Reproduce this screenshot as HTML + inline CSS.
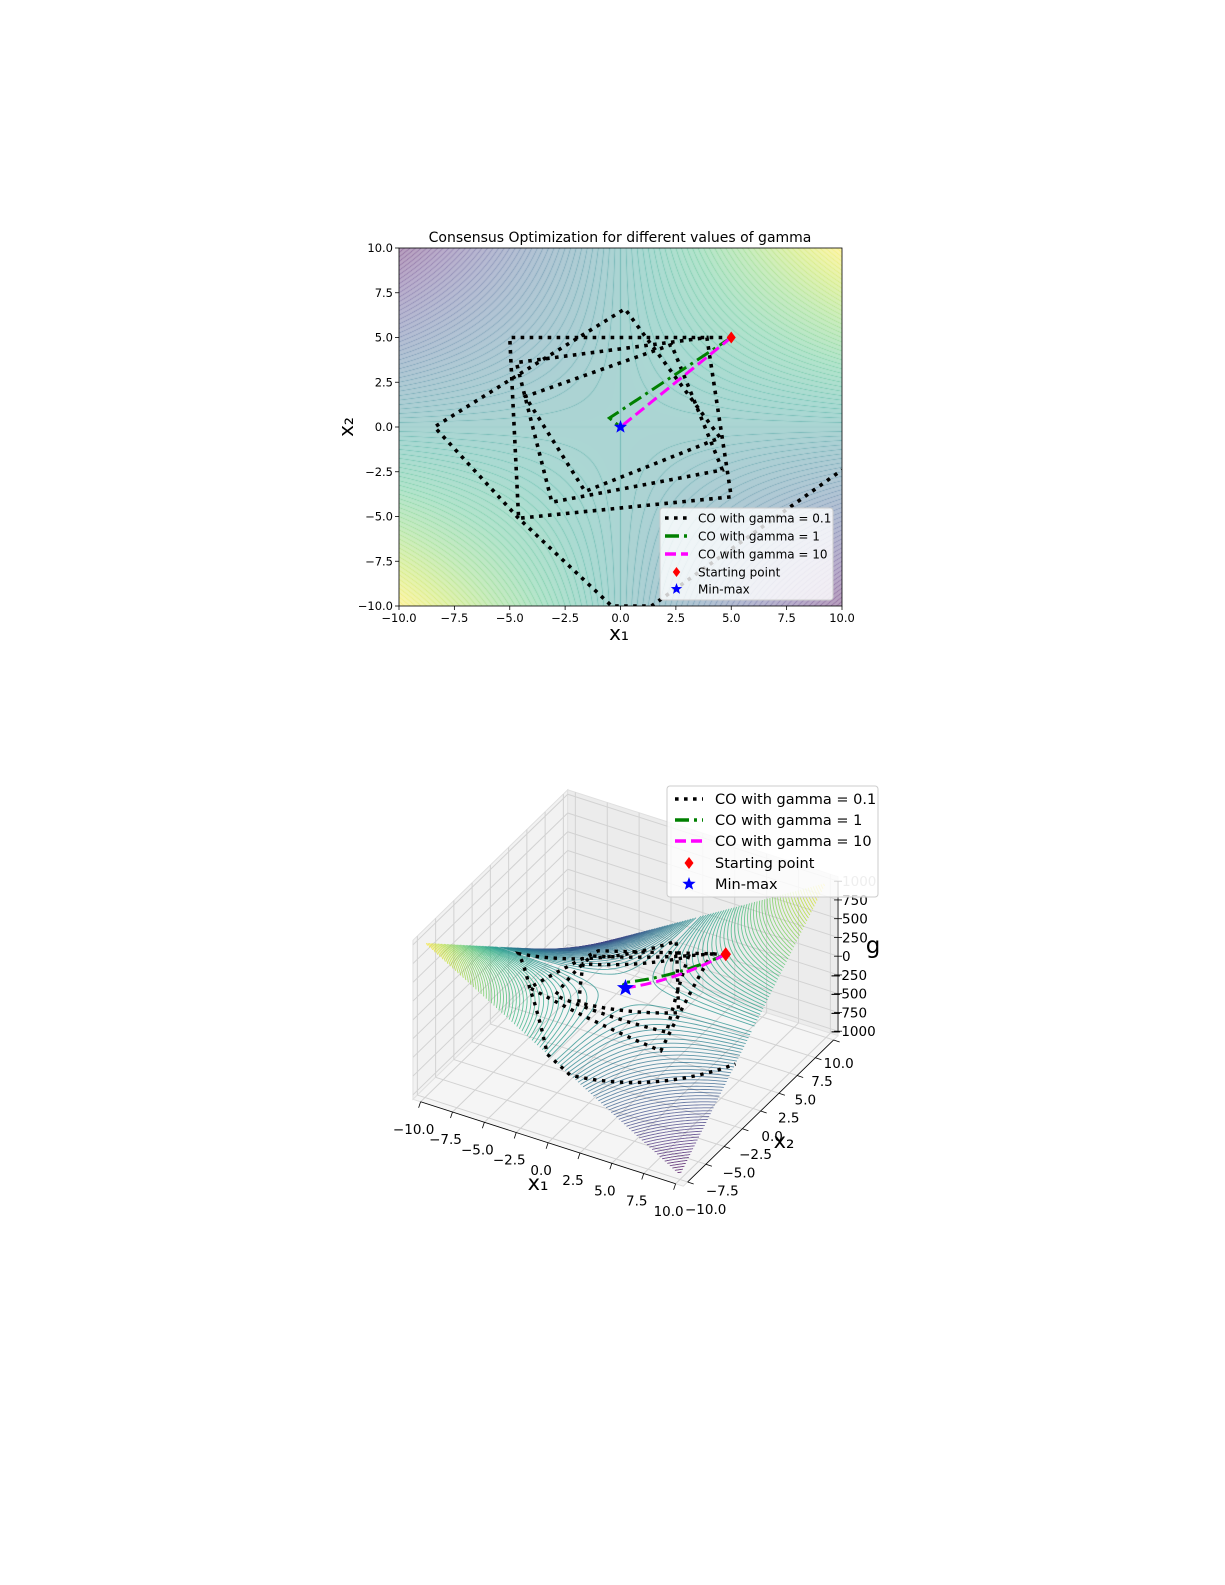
<!DOCTYPE html>
<html><head><meta charset="utf-8">
<style>
html,body{margin:0;padding:0;background:#fff;}
#wrap{position:relative;width:1225px;height:1585px;overflow:hidden;font-family:"DejaVu Sans","Liberation Sans",sans-serif;}
#heat{position:absolute;left:399px;top:248px;}
#svg{position:absolute;left:0;top:0;}
</style></head>
<body>
<div id="wrap">
<canvas id="heat" width="443" height="358"></canvas>
<svg id="svg" width="1225" height="1585" xmlns="http://www.w3.org/2000/svg" font-family="DejaVu Sans, Liberation Sans, sans-serif">
<defs><clipPath id="clip2d"><rect x="399" y="248" width="443" height="358"/></clipPath></defs>
<g id="g2d"></g>
<g id="g3d"></g>
</svg>
</div>
<script>
// ---- data ----
const ticks2d = [-10.0,-7.5,-5.0,-2.5,0.0,2.5,5.0,7.5,10.0];
const tickLabels2d = ["\u221210.0","\u22127.5","\u22125.0","\u22122.5","0.0","2.5","5.0","7.5","10.0"];
const zTicks = [-1000,-750,-500,-250,0,250,500,750,1000];
const zTickLabels = ["\u22121000","\u2212750","\u2212500","\u2212250","0","250","500","750","1000"];
const co01x = [5,-5,-4.6,5,3.9,-4.7,-3.1,4.6,2.3,-4.3,-1.6,4.5,0.2,-4.9,-8.4,-4.6,-0.4,1.4,10];
const co01y = [5,5,-5.1,-3.9,5,3.6,-4.2,-2.4,4.6,1.7,-3.6,-0.6,6.6,2.7,0,-5.1,-10,-10,-2.4];
const co1x = [5,-0.5,0];
const co1y = [5,0.5,0];
const co10x = [5,0];
const co10y = [5,0];
const startPt = [5,5];
const minmaxPt = [0,0];
const legendLabels = ["CO with gamma = 0.1","CO with gamma = 1","CO with gamma = 10","Starting point","Min-max"];

const NS="http://www.w3.org/2000/svg";
function mk(tag,attrs,parent,text){const e=document.createElementNS(NS,tag);for(const k in attrs)e.setAttribute(k,attrs[k]);if(text!==undefined)e.textContent=text;parent.appendChild(e);return e;}
const VS=[[68,1,84],[72,40,120],[62,74,137],[49,104,142],[38,130,142],[31,158,137],[53,183,121],[109,205,89],[180,222,44],[253,231,37]];
function viridis(t){t=Math.max(0,Math.min(1,t))*9;const i=Math.min(8,Math.floor(t));const f=t-i;const a=VS[i],b=VS[i+1];return [a[0]+(b[0]-a[0])*f,a[1]+(b[1]-a[1])*f,a[2]+(b[2]-a[2])*f];}
function fval(x1,x2){return x1*x2;}

// ---- 2D heatmap ----
const L=399,T=248,W=443,H=358;
const sx=v=>L+(v+10)/20*W, sy=v=>T+H-(v+10)/20*H;
(function(){
 const cv=document.getElementById('heat');const ctx=cv.getContext('2d');
 const img=ctx.createImageData(W,H);const step=2.5;
 for(let j=0;j<H;j++)for(let i=0;i<W;i++){
  const x1=-10+(i+0.5)/W*20,x2=10-(j+0.5)/H*20;const f=fval(x1,x2);
  const c=viridis((f+100)/200);
  const g=Math.sqrt(x1*x1+x2*x2)*(20/W)+1e-6;
  const fr=Math.abs(f/step-Math.round(f/step))*step/g;
  let a=0.38;if(fr<0.7)a+=0.25*(1-fr/0.7);
  const k=(j*W+i)*4;
  img.data[k]=255*(1-a)+c[0]*a;img.data[k+1]=255*(1-a)+c[1]*a;img.data[k+2]=255*(1-a)+c[2]*a;img.data[k+3]=255;}
 ctx.putImageData(img,0,0);
})();

const g2=document.getElementById('g2d');
mk('rect',{x:L,y:T,width:W,height:H,fill:'none',stroke:'#000','stroke-width':0.8,},g2);
mk('text',{x:620,y:242,'text-anchor':'middle','font-size':14,},g2,'Consensus Optimization for different values of gamma');
ticks2d.forEach((v,i)=>{
 mk('line',{x1:sx(v),x2:sx(v),y1:T+H,y2:T+H+4,stroke:'#000','stroke-width':0.8},g2);
 mk('text',{x:sx(v),y:T+H+16,'text-anchor':'middle','font-size':11.5,},g2,tickLabels2d[i]);
 mk('line',{x1:L-4,x2:L,y1:sy(v),y2:sy(v),stroke:'#000','stroke-width':0.8},g2);
 mk('text',{x:L-6,y:sy(v)+4,'text-anchor':'end','font-size':11.5,},g2,tickLabels2d[i]);
});
mk('text',{x:619,y:640,'text-anchor':'middle','font-size':20,},g2,'x\u2081');
mk('text',{x:0,y:0,'text-anchor':'middle','font-size':20,transform:'translate(353,427) rotate(-90)',},g2,'x\u2082');
const cg=mk('g',{'clip-path':'url(#clip2d)'},g2);
function pts2(xs,ys){return xs.map((x,i)=>sx(x)+','+sy(ys[i])).join(' ');}
mk('polyline',{points:pts2(co01x,co01y),fill:'none',stroke:'#000','stroke-width':3.6,'stroke-dasharray':'3.6,5.4',},cg);
mk('polyline',{points:pts2(co1x,co1y),fill:'none',stroke:'#008000','stroke-width':3,'stroke-dasharray':'14,5,3,5',},cg);
mk('polyline',{points:pts2(co10x,co10y),fill:'none',stroke:'#ff00ff','stroke-width':3,'stroke-dasharray':'11,5',},cg);
function diamond(x,y,r,p,name){mk('polygon',{points:`${x},${y-r} ${x+r*0.75},${y} ${x},${y+r} ${x-r*0.75},${y}`,fill:'#ff0000',},p);}
function star(x,y,r,p,name){let s='';for(let k=0;k<10;k++){const rr=k%2?r*0.42:r;const a=-Math.PI/2+k*Math.PI/5;s+=(x+rr*Math.cos(a))+','+(y+rr*Math.sin(a))+' ';}mk('polygon',{points:s,fill:'#0000ff',},p);}
diamond(sx(startPt[0]),sy(startPt[1]),6,g2,'starting-point-marker');
star(sx(minmaxPt[0]),sy(minmaxPt[1]),7,g2,'min-max-marker');
function legend(p,x,y,w,h,rows,hx1,hx2,tx,fs,ms){
 const lg=mk('g',{},p);
 mk('rect',{x:x,y:y,width:w,height:h,rx:3,fill:'#fff','fill-opacity':0.8,stroke:'#ccc','stroke-width':1},lg);
 const st=[{s:'#000',d:'3.6,5.4'},{s:'#008000',d:'14,5,3,5'},{s:'#ff00ff',d:'11,5'}];
 legendLabels.forEach((lab,i)=>{
  const yy=rows[i];const e=mk('g',{},lg);
  if(i<3)mk('line',{x1:hx1,x2:hx2,y1:yy,y2:yy,stroke:st[i].s,'stroke-width':3.6,'stroke-dasharray':st[i].d},e);
  else if(i===3)diamond((hx1+hx2)/2,yy,ms,e,'legend-diamond');else star((hx1+hx2)/2,yy,ms+1,e,'legend-star');
  mk('text',{x:tx,y:yy+fs*0.36,'font-size':fs},e,lab);
 });
}
legend(g2,660,508,173,92,[518,536,554,572,589],665,688,698,12,5);

// ---- 3D ----
const g3=document.getElementById('g3d');
const O=[425,1093],U=[255,82],V=[146,-142],Wz=[0,-150];
function P(x1,x2,z){const a=(x1+10)/20,b=(x2+10)/20,c=(z+1000)/2000;return [O[0]+a*U[0]+b*V[0]+c*Wz[0],O[1]+a*U[1]+b*V[1]+c*Wz[1]];}
const m=0.6;
function poly(list,attrs){return mk('polygon',Object.assign({points:list.map(p=>p.join(',')).join(' ')},attrs),g3);}
poly([P(-10-m,-10-m,-1000-60),P(-10-m,10+m,-1000-60),P(-10-m,10+m,1000+60),P(-10-m,-10-m,1000+60)],{fill:'#f2f2f2',stroke:'#e0e0e0',});
poly([P(-10-m,10+m,-1000-60),P(10+m,10+m,-1000-60),P(10+m,10+m,1000+60),P(-10-m,10+m,1000+60)],{fill:'#ececec',stroke:'#e0e0e0',});
poly([P(-10-m,-10-m,-1060),P(10+m,-10-m,-1060),P(10+m,10+m,-1060),P(-10-m,10+m,-1060)],{fill:'#f5f5f5',stroke:'#e0e0e0',});
function ln(a,b,attrs){return mk('line',Object.assign({x1:a[0],y1:a[1],x2:b[0],y2:b[1]},attrs),g3);}
const gs={stroke:'#d2d2d2','stroke-width':1};
ticks2d.forEach(v=>{
 ln(P(-10-m,v,-1060),P(-10-m,v,1060),gs);ln(P(-10-m,v,-1060),P(10+m,v,-1060),gs);
 ln(P(v,10+m,-1060),P(v,10+m,1060),gs);ln(P(v,-10-m,-1060),P(v,10+m,-1060),gs);
});
zTicks.forEach(z=>{ln(P(-10-m,-10-m,z),P(-10-m,10+m,z),gs);ln(P(-10-m,10+m,z),P(10+m,10+m,z),gs);});
// surface contours
const sg=mk('g',{},g3);
for(let lv=-1000;lv<=1000;lv+=20){
 if(lv===0)continue;const k=lv/10;const col=viridis((lv+1000)/2000);
 const cs=`rgb(${col[0]|0},${col[1]|0},${col[2]|0})`;
 [1,-1].forEach(sg1=>{
  const lo=Math.abs(k)/10;if(lo>10)return;let s='';
  for(let t=0;t<=40;t++){const ax=lo*Math.pow(10/lo,t/40);const x1=sg1*ax;const x2=k/x1;s+=P(x1,x2,lv).map(v=>v.toFixed(1)).join(',')+' ';}
  mk('polyline',{points:s,fill:'none',stroke:cs,'stroke-width':0.9,'stroke-opacity':0.75},sg);
 });
}
function path3(xs,ys){let s='';for(let i=0;i<xs.length-1;i++){for(let t=0;t<20;t++){const f=t/20;let x=xs[i]+(xs[i+1]-xs[i])*f,y=ys[i]+(ys[i+1]-ys[i])*f;if(Math.abs(x)>10||Math.abs(y)>10)continue;s+=P(x,y,10*fval(x,y)).map(v=>v.toFixed(1)).join(',')+' ';}}const n=xs.length-1;s+=P(xs[n],ys[n],10*fval(xs[n],ys[n])).join(',');return s;}
mk('polyline',{points:path3(co01x,co01y),fill:'none',stroke:'#000','stroke-width':3.4,'stroke-dasharray':'3.4,5.6',},g3);
mk('polyline',{points:path3(co1x,co1y),fill:'none',stroke:'#008000','stroke-width':3,'stroke-dasharray':'14,5,3,5',},g3);
mk('polyline',{points:path3(co10x,co10y),fill:'none',stroke:'#ff00ff','stroke-width':3,'stroke-dasharray':'11,5',},g3);
let sp=P(startPt[0],startPt[1],10*fval(startPt[0],startPt[1]));diamond(sp[0],sp[1],7,g3,'starting-point-marker-3d');
let mp=P(minmaxPt[0],minmaxPt[1],0);star(mp[0],mp[1],9,g3,'min-max-marker-3d');
// axes lines & ticks
ln(P(-10,-10-m,-1060),P(10,-10-m,-1060),{stroke:'#000','stroke-width':0.8});
ln(P(10+m,-10,-1060),P(10+m,10,-1060),{stroke:'#000','stroke-width':0.8});
ln(P(10+m,10+m,-1000),P(10+m,10+m,1000),{stroke:'#000','stroke-width':0.8});
ticks2d.forEach((v,i)=>{
 const p=P(v,-10-m,-1060);ln(p,[p[0]-2,p[1]+6],{stroke:'#000','stroke-width':0.8});
 mk('text',{x:p[0]-7,y:p[1]+32,'text-anchor':'middle','font-size':13.5,},g3,tickLabels2d[i]);
 const b=(v+10)/20;const q=P(10+m,v,-1060);ln(q,[q[0]+6,q[1]+2],{stroke:'#000','stroke-width':0.8});
 mk('text',{x:q[0]+18-13*b,y:q[1]+32-4*b,'text-anchor':'middle','font-size':13.5,},g3,tickLabels2d[i]);
});
zTicks.forEach((z,i)=>{
 const p=P(10+m,10+m,z);ln([p[0]-4,p[1]],[p[0]+4,p[1]],{stroke:'#000','stroke-width':0.8});
 mk('text',{x:z<0?p[0]-8:p[0]+4,y:p[1]+5,'font-size':13.5,fill:z===1000?'#aaa':'#000',},g3,zTickLabels[i]);
});
mk('text',{x:538,y:1190,'text-anchor':'middle','font-size':21,},g3,'x\u2081');
mk('text',{x:784,y:1148,'text-anchor':'middle','font-size':21,},g3,'x\u2082');
mk('text',{x:873,y:953,'text-anchor':'middle','font-size':23,},g3,'g');
legend(g3,667,786,211,111,[799,820,841,863,884],675,703,715,14.5,6);
</script>
</body></html>
